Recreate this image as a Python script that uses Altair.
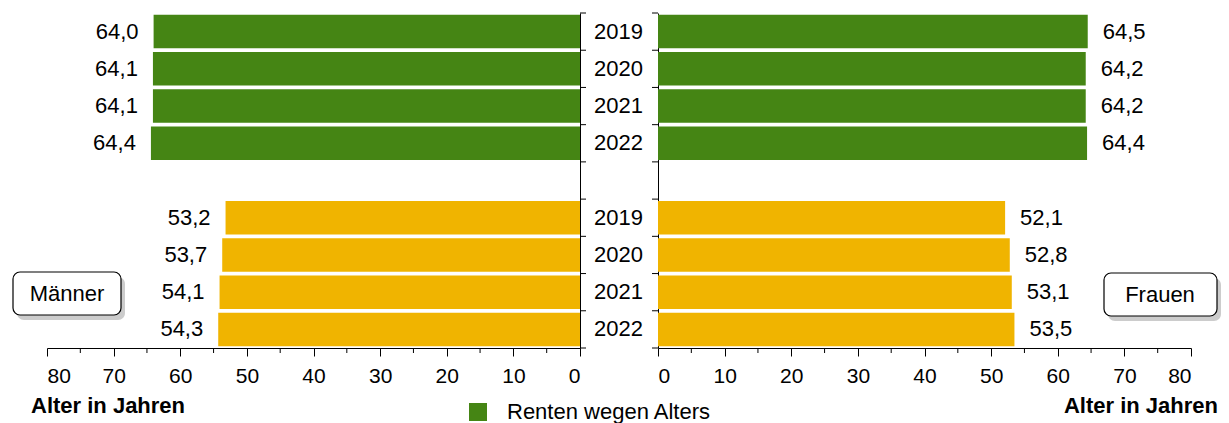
import altair as alt
import pandas as pd

years = ["2019", "2020", "2021", "2022"]
kinds = ["Renten wegen Alters", "Renten wegen verminderter Erwerbsfähigkeit"]
colors = ["#458514", "#f0b400"]
men_alter = [64.0, 64.1, 64.1, 64.4]
men_em = [53.2, 53.7, 54.1, 54.3]
women_alter = [64.5, 64.2, 64.2, 64.4]
women_em = [52.1, 52.8, 53.1, 53.5]
major_ticks = [0, 10, 20, 30, 40, 50, 60, 70, 80]
minor_ticks = [5, 15, 25, 35, 45, 55, 65, 75]

# unique row keys: green rows plain year, orange rows with trailing space
rows = years + [" "] + [y + " " for y in years]

def fmt(v):
    return f"{v:.1f}".replace(".", ",")

def make_df(alter, em):
    recs = []
    for y, v in zip(years, alter):
        recs.append({"row": y, "value": v, "kind": kinds[0], "label": fmt(v)})
    for y, v in zip(years, em):
        recs.append({"row": y + " ", "value": v, "kind": kinds[1], "label": fmt(v)})
    return pd.DataFrame(recs)

df_m = make_df(men_alter, men_em)
df_w = make_df(women_alter, women_em)
df_minor = pd.DataFrame({"value": minor_ticks})
df_rows = pd.DataFrame({"row": rows})
df_last = pd.DataFrame({"row": rows[-1:]})

FONT = "Liberation Sans"
W, H = 533, 335
HALF_STEP = H / 9 / 2

def x_axis():
    return alt.Axis(
        values=major_ticks,
        tickSize=8,
        tickColor="black",
        domainColor="black",
        labelFontSize=21,
        labelFont=FONT,
        labelColor="black",
        labelPadding=9,
        grid=False,
        title=None,
    )

y_scale = alt.Scale(domain=rows, paddingInner=0.1, paddingOuter=0.05)
color_enc = alt.Color(
    "kind:N",
    scale=alt.Scale(domain=kinds, range=colors),
    legend=alt.Legend(
        orient="none",
        legendX=420,
        legendY=388,
        direction="horizontal",
        title=None,
        values=[kinds[0]],
        symbolType="square",
        symbolSize=324,
        symbolStrokeWidth=0,
        symbolOpacity=1,
        labelFontSize=22,
        labelFont=FONT,
        labelColor="black",
        labelOffset=18,
        labelLimit=400,
        padding=0,
    ),
)

def minor(xscale):
    return alt.Chart(df_minor).mark_rule(color="black", strokeWidth=1).encode(
        x=alt.X("value:Q", scale=xscale), y=alt.value(H), y2=alt.value(H + 5)
    )

def band_ticks(x1, x2):
    a = alt.Chart(df_rows).mark_rule(color="black", strokeWidth=1, yOffset=-HALF_STEP).encode(
        y=alt.Y("row:N"), x=alt.value(x1), x2=alt.value(x2)
    )
    b = alt.Chart(df_last).mark_rule(color="black", strokeWidth=1, yOffset=HALF_STEP).encode(
        y=alt.Y("row:N"), x=alt.value(x1), x2=alt.value(x2)
    )
    return [a, b]

def text_item(text, tx, ty, align="center", bold=False):
    d = alt.Data(values=[{"t": text}])
    return alt.Chart(d).mark_text(
        fontSize=22, font=FONT, color="black", baseline="middle", align=align,
        fontWeight="bold" if bold else "normal",
    ).encode(x=alt.value(tx), y=alt.value(ty), text="t:N")

def box(x1, x2, y1, y2, text, tx, ty):
    d = alt.Data(values=[{"t": text}])
    shadow = alt.Chart(d).mark_rect(cornerRadius=7, fill="#9a9a9a", opacity=0.5).encode(
        x=alt.value(x1 + 4), x2=alt.value(x2 + 4), y=alt.value(y1 + 5), y2=alt.value(y2 + 5)
    )
    rect = alt.Chart(d).mark_rect(cornerRadius=7, fill="white", stroke="black", strokeWidth=1.2).encode(
        x=alt.value(x1), x2=alt.value(x2), y=alt.value(y1), y2=alt.value(y2)
    )
    return [shadow, rect, text_item(text, tx, ty)]

# Left panel (Männer)
xs_m = alt.Scale(domain=[0, 80], reverse=True, nice=False)
base_m = alt.Chart(df_m)
bars_m = base_m.mark_bar(opacity=1).encode(
    x=alt.X("value:Q", scale=xs_m, axis=x_axis()),
    y=alt.Y(
        "row:N",
        scale=y_scale,
        axis=alt.Axis(
            orient="right",
            title=None,
            tickSize=6,
            tickOpacity=0,
            domainColor="black",
            labelAlign="center",
            labelPadding=32,
            labelFontSize=22,
            labelFont=FONT,
            labelColor="black",
        ),
    ),
    color=color_enc,
)
text_m = base_m.mark_text(align="right", dx=-15, fontSize=22, font=FONT, color="black", baseline="middle").encode(
    x="value:Q", y="row:N", text="label:N"
)
left = alt.layer(
    bars_m, text_m, minor(xs_m), *band_ticks(W, W + 6),
    *box(-34, 74, 259, 302, "Männer", 20, 281),
    text_item("Alter in Jahren", -16, H + 58, align="left", bold=True),
).properties(width=W, height=H)

# Right panel (Frauen)
xs_w = alt.Scale(domain=[0, 80], nice=False)
base_w = alt.Chart(df_w)
bars_w = base_w.mark_bar(opacity=1).encode(
    x=alt.X("value:Q", scale=xs_w, axis=x_axis()),
    y=alt.Y(
        "row:N",
        scale=y_scale,
        axis=alt.Axis(
            orient="left",
            title=None,
            ticks=False,
            domainColor="black",
            labels=False,
        ),
    ),
    color=color_enc,
)
text_w = base_w.mark_text(align="left", dx=15, fontSize=22, font=FONT, color="black", baseline="middle").encode(
    x="value:Q", y="row:N", text="label:N"
)
right = alt.layer(
    bars_w, text_w, minor(xs_w), *band_ticks(-6, 0),
    *box(446, 559, 260, 303, "Frauen", 502, 282),
    text_item("Alter in Jahren", 560, H + 58, align="right", bold=True),
).properties(width=W, height=H)

chart = (
    alt.hconcat(left, right, spacing=78, bounds="flush")
    .properties(padding={"left": 4, "top": 4, "right": 0, "bottom": 0})
    .configure_view(stroke=None)
    .configure_axis(domainWidth=1, tickWidth=1)
)

chart.save("out.html", embed_options={"renderer": "svg", "actions": False})
